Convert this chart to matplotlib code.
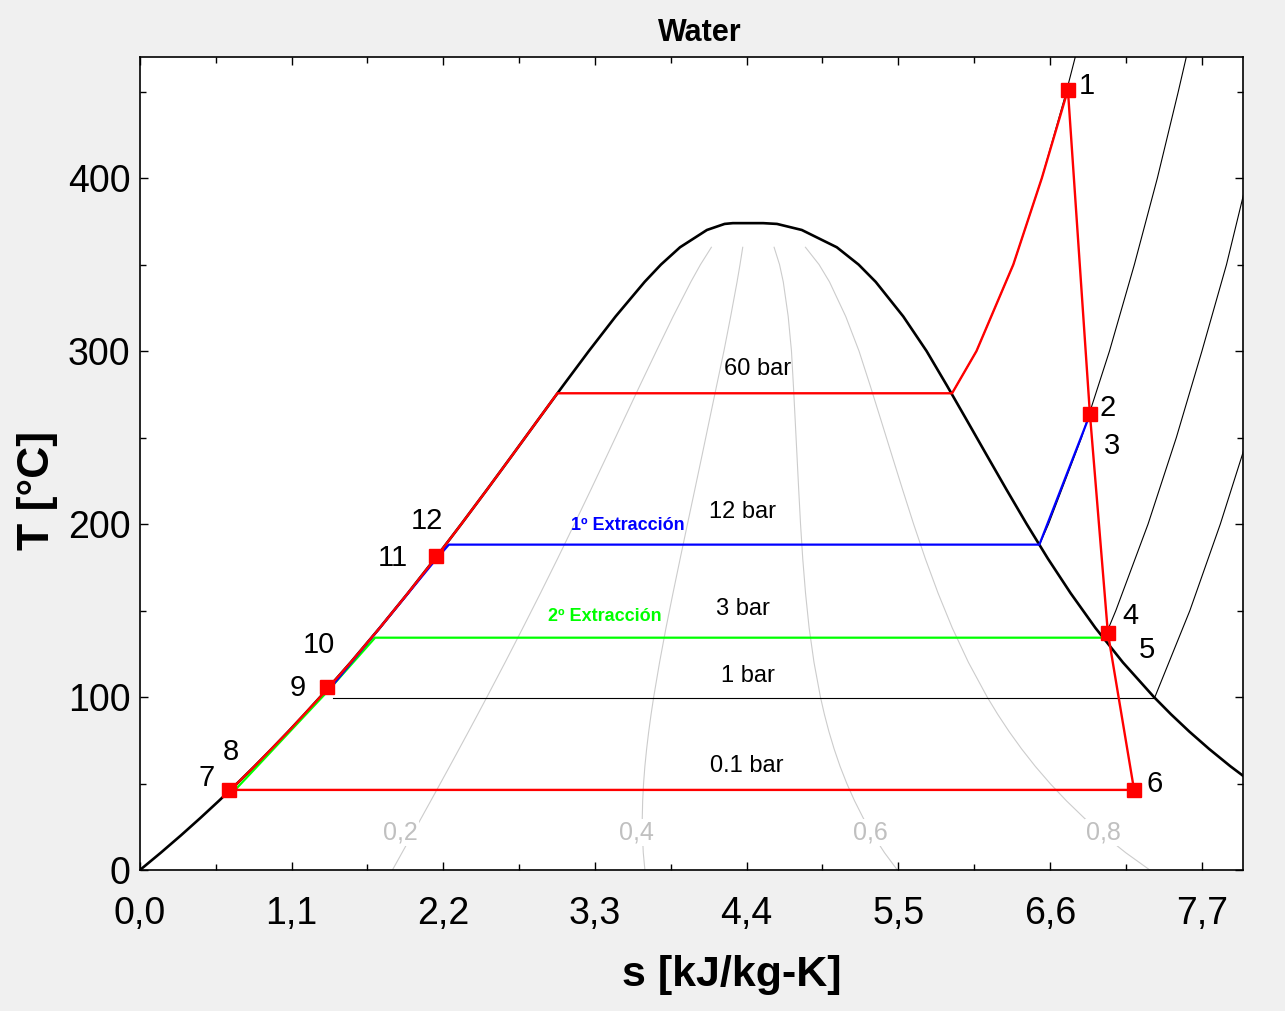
import matplotlib
matplotlib.use('Agg')
import matplotlib.pyplot as plt
from matplotlib.ticker import MultipleLocator, FixedLocator
import numpy as np

plt.rcParams['font.family'] = ['Liberation Sans', 'DejaVu Sans']

# saturation dome (T in C, s in kJ/kg-K)
T_sat = [0.01, 10, 20, 30, 40, 50, 60, 70, 80, 90, 100, 120, 140, 160, 180, 200,
         220, 240, 260, 280, 300, 320, 340, 350, 360, 370, 373.5]
s_liq = [0.0, 0.151, 0.2966, 0.4368, 0.5724, 0.7038, 0.8312, 0.955, 1.0754, 1.1927,
         1.3069, 1.5278, 1.7391, 1.9427, 2.1396, 2.3305, 2.5177, 2.702, 2.8847,
         3.0683, 3.2552, 3.4494, 3.6601, 3.7784, 3.9167, 4.1119, 4.24]
s_vap = [9.155, 8.899, 8.666, 8.452, 8.256, 8.075, 7.908, 7.754, 7.611, 7.478,
         7.354, 7.129, 6.929, 6.750, 6.585, 6.431, 6.284, 6.140, 5.997, 5.853,
         5.705, 5.536, 5.336, 5.212, 5.054, 4.800, 4.62]
s_top = [4.30, 4.52]
T_top = [373.95, 373.95]

# superheated isobars
iso60_s = [5.89, 6.067, 6.334, 6.541, 6.719, 6.880]
iso60_T = [275.6, 300, 350, 400, 450, 500]
iso12_s = [6.523, 6.5898, 6.8293, 7.0316, 7.2121, 7.3789, 7.5306, 7.6759]
iso12_T = [188, 200, 250, 300, 350, 400, 450, 500]
iso3_s = [6.992, 7.0778, 7.3115, 7.5165, 7.7022, 7.8803, 8.033]
iso3_T = [133.5, 150, 200, 250, 300, 350, 400]
iso1_s = [7.359, 7.6148, 7.8356, 8.0346]
iso1_T = [99.6, 150, 200, 250]
bar1_s = [1.40, 7.359]
bar1_T = [99.6, 99.6]

# cycle paths
red_s = [0.646, 0.7038, 0.8312, 1.0754, 1.3069, 1.5278, 1.7391, 1.9427, 2.1396,
         2.3305, 2.5177, 2.702, 2.8847, 3.027, 5.89, 6.067, 6.334, 6.541, 6.73,
         6.89, 7.02, 7.21, 0.646]
red_T = [46.3, 50, 60, 80, 100, 120, 140, 160, 180, 200, 220, 240, 260, 275.6,
         275.6, 300, 350, 400, 451, 263.4, 137, 46.3, 46.3]
blue_s = [6.89, 6.523, 2.24, 2.12, 1.40]
blue_T = [263.4, 188.1, 188.1, 177, 107]
green_s = [7.0, 1.705, 1.357, 0.704]
green_T = [134.3, 134.3, 103, 47.5]

# state points
pt_s = [6.73, 6.89, 7.02, 7.21, 0.646, 1.357, 2.148]
pt_T = [451, 263.4, 137, 46.3, 46.3, 105.9, 181.8]
lab_txt = ['1', '2', '3', '4', '5', '6', '7', '8', '9', '10', '11', '12']
lab_s = [6.87, 7.02, 7.05, 7.18, 7.30, 7.36, 0.486, 0.66, 1.147, 1.30, 1.836, 2.083]
lab_T = [453, 267, 245, 147, 127, 50, 53, 68, 105, 130, 180.6, 202]

p_txt = ['60 bar', '12 bar', '3 bar', '1 bar', '0.1 bar']
p_s = [4.48, 4.37, 4.376, 4.41, 4.40]
p_T = [289.4, 206.7, 151, 112.3, 60.2]

qualities = [0.2, 0.4, 0.6, 0.8]
q_txt = ['0,2', '0,4', '0,6', '0,8']
q_lab_s = [1.887, 3.6, 5.30, 6.99]
q_lab_T = [21.4, 21.4, 21.4, 21.4]

fig = plt.figure(figsize=(12.85, 10.11), dpi=100, facecolor='#f0f0f0')
ax = fig.add_axes([140/1285, 1 - 870/1011, 1103/1285, 813/1011])
ax.set_facecolor('white')

# quality lines
Tq = np.array(T_sat[:25])
sl = np.array(s_liq[:25])
sv = np.array(s_vap[:25])
for q in qualities:
    ax.plot(sl + q*(sv - sl), Tq, color='#cccccc', lw=0.8, zorder=1)
for t, x, y in zip(q_txt, q_lab_s, q_lab_T):
    ax.text(x, y, t, color='#c0c0c0', fontsize=18, ha='center', va='center', zorder=2,
            bbox=dict(facecolor='white', edgecolor='none', pad=1))

# dome
ax.plot(s_liq + s_top + s_vap[::-1], T_sat + T_top + T_sat[::-1],
        color='black', lw=1.9, zorder=3)

# isobars
for xs, ys in [(iso60_s, iso60_T), (iso12_s, iso12_T), (iso3_s, iso3_T),
               (iso1_s, iso1_T), (bar1_s, bar1_T)]:
    ax.plot(xs, ys, color='black', lw=0.8, zorder=3)

ax.plot(green_s, green_T, color='#00ff00', lw=1.6, zorder=4)
ax.plot(blue_s, blue_T, color='#0000ff', lw=1.6, zorder=5)
ax.plot(red_s, red_T, color='#ff0000', lw=1.7, zorder=6)
ax.plot(pt_s, pt_T, 's', color='#ff0000', ms=9.5, zorder=7)

for t, x, y in zip(lab_txt, lab_s, lab_T):
    ax.text(x, y, t, fontsize=21, ha='center', va='center', zorder=8)
for t, x, y in zip(p_txt, p_s, p_T):
    ax.text(x, y, t, fontsize=17, ha='center', va='center', zorder=8)
ax.text(3.54, 199, '1º Extracción', color='#0000ff', fontsize=13,
        fontweight='bold', ha='center', va='center', zorder=8)
ax.text(3.37, 146.5, '2º Extracción', color='#00ff00', fontsize=13,
        fontweight='bold', ha='center', va='center', zorder=8)

ax.set_xlim(0, 8.0)
ax.set_ylim(0, 470)
xt = [0, 1.1, 2.2, 3.3, 4.4, 5.5, 6.6, 7.7]
ax.xaxis.set_major_locator(FixedLocator(xt))
ax.set_xticklabels([f'{v:.1f}'.replace('.', ',') for v in xt])
ax.xaxis.set_minor_locator(MultipleLocator(0.55))
ax.yaxis.set_major_locator(MultipleLocator(100))
ax.yaxis.set_minor_locator(MultipleLocator(50))
ax.tick_params(which='both', direction='in', top=True, right=True, width=1)
ax.tick_params(which='major', length=6, labelsize=27)
ax.tick_params(which='minor', length=4)
ax.tick_params(axis='x', pad=19)
ax.tick_params(axis='y', pad=7)
for sp in ax.spines.values():
    sp.set_linewidth(1.2)

fig.text(700/1285, 1 - 33/1011, 'Water', fontsize=22, fontweight='bold',
         ha='center', va='center')
fig.text(732/1285, 1 - 975/1011, 's [kJ/kg-K]', fontsize=31, fontweight='bold',
         ha='center', va='center')
fig.text(38/1285, 1 - 490/1011, 'T [°C]', fontsize=32, fontweight='bold',
         ha='center', va='center', rotation=90)

fig.savefig('out.png', dpi=100, facecolor=fig.get_facecolor())
